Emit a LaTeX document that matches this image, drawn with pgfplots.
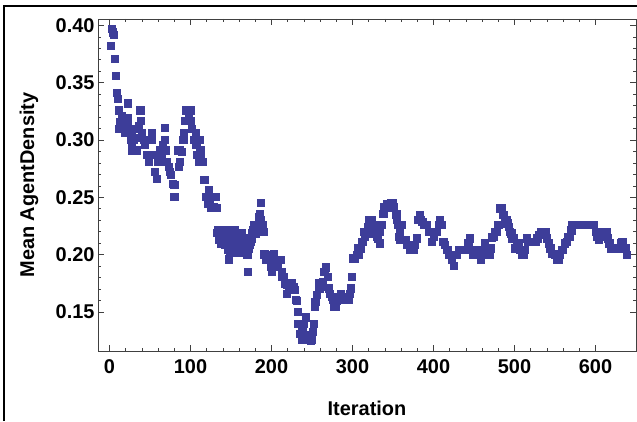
\documentclass[border=0pt]{standalone}
\usepackage{pgfplots}
\pgfplotsset{compat=1.18}
\usepackage{fontspec}
\setmainfont{Liberation Sans}
\definecolor{pts}{rgb}{0.24,0.24,0.6}
\begin{document}
\begin{tikzpicture}[x=1bp,y=1bp]
\useasboundingbox (0,0) rectangle (637,421);
\draw[line width=2bp] (4,0) -- (4,415) -- (637,415);
\begin{axis}[
  at={(98bp,70bp)}, anchor=south west,
  scale only axis, width=538bp, height=332bp,
  xmin=-14.2, xmax=650, ymin=0.1159, ymax=0.4056,
  xtick={0,100,...,600}, minor x tick num=4,
  ytick={0.15,0.20,0.25,0.30,0.35,0.40}, minor y tick num=4,
  tick align=inside,
  major tick length=6bp, minor tick length=3bp,
  axis line style={black!75, line width=0.6bp},
  every tick/.style={black!75, line width=0.6bp},
  yticklabel style={/pgf/number format/.cd, fixed, fixed zerofill, precision=2},
  /pgf/number format/assume math mode=true,
  tick label style={font=\fontsize{20}{24}\selectfont\bfseries},
  xticklabel style={yshift=-5bp},
  xlabel={Iteration}, ylabel={Mean AgentDensity},
  every axis x label/.style={at={(axis description cs:0.5,-0.1717)}, anchor=center, font=\fontsize{20}{24}\selectfont\bfseries},
  every axis y label/.style={at={(axis description cs:-0.128,0.5)}, rotate=90, anchor=center, font=\fontsize{20}{24}\selectfont\bfseries},
]
\addplot[only marks, mark=square*, mark size=3.6bp, mark options={draw=pts, fill=pts, line width=0.5bp}] coordinates {
(2,0.382)(3,0.397)(4,0.394)(5,0.392)(6,0.371)(8,0.356)(9,0.341)(10,0.336)(11,0.326)(12,0.310)(13,0.316)(15,0.321)(17,0.316)(19,0.306)(20,0.310)(22,0.319)(23,0.332)(23,0.316)(25,0.310)(26,0.300)(27,0.306)(27,0.296)(28,0.291)(30,0.300)(31,0.310)(32,0.302)(34,0.291)(36,0.312)(38,0.326)(39,0.317)(40,0.306)(42,0.300)(44,0.296)(46,0.287)(48,0.281)(50,0.287)
(52,0.306)(52,0.300)(54,0.287)(56,0.272)(58,0.266)(60,0.281)(62,0.291)(63,0.281)(64,0.287)(66,0.296)(68,0.311)(68,0.300)(69,0.291)(71,0.281)(73,0.277)(74,0.272)(76,0.270)(78,0.262)(80,0.261)(80,0.2505)(84,0.291)(85,0.277)(87,0.281)(87,0.291)(89,0.290)
(91,0.300)(92,0.306)(93,0.317)(94,0.326)(96,0.326)(98,0.321)(100,0.326)(100,0.317)(102,0.310)(104,0.300)(106,0.306)(107,0.296)(108,0.287)(110,0.281)(111,0.300)(112,0.291)(113,0.287)(115,0.281)(117,0.265)(118,0.265)(119,0.2505)(120,0.2505)(121,0.2447)(123,0.2564)(124,0.2453)(125,0.2409)(126,0.2505)(128,0.2505)(129,0.2418)(131,0.2505)(132,0.2409)
(133,0.219)(134,0.222)(135,0.213)(136,0.2186)(137,0.2215)(138,0.210)(139,0.2215)(140,0.2186)(141,0.213)(142,0.2215)(143,0.2084)(144,0.2186)(145,0.213)(146,0.204)(147,0.196)(148,0.208)(149,0.2013)(150,0.213)(151,0.2186)(152,0.2215)(153,0.210)(154,0.2186)(155,0.2215)(156,0.213)(157,0.2055)(158,0.2013)(159,0.210)(160,0.2055)(161,0.213)(162,0.2013)(163,0.2186)(164,0.2142)(165,0.2055)(166,0.2013)(167,0.2084)(168,0.2013)(169,0.1997)(170,0.1997)(171,0.185)(172,0.2055)(173,0.2084)(174,0.2113)(175,0.2142)(176,0.2186)(177,0.2215)(178,0.2258)
(180,0.2186)(182,0.2250)(184,0.2330)(185,0.2352)(187,0.2456)(187,0.2300)(189,0.2258)(190,0.2200)(191,0.2003)(193,0.1953)(195,0.1953)(197,0.1997)(199,0.1894)(200,0.1850)(201,0.1953)(203,0.2003)(205,0.1953)(207,0.1894)(209,0.1953)(211,0.1953)(213,0.1850)(213,0.1807)(215,0.1807)(217,0.1750)(219,0.1735)(219,0.1662)(221,0.1720)(223,0.1735)(225,0.1750)(227,0.1720)(229,0.1691)(230,0.1604)(231,0.1598)(232,0.1500)(233,0.1400)(235,0.1313)
(237,0.138)(238,0.1255)(239,0.133)(240,0.140)(242,0.1453)(243,0.128)(244,0.1255)(246,0.130)(247,0.1255)(248,0.125)(250,0.1255)(251,0.133)(252,0.140)(253,0.1545)(254,0.159)(256,0.165)(258,0.175)(259,0.170)(261,0.172)(263,0.176)(265,0.185)(267,0.189)(269,0.1807)(271,0.1706)(272,0.1662)(274,0.163)(276,0.1604)(277,0.1545)(279,0.1545)(281,0.160)(283,0.163)(285,0.1662)(287,0.163)(289,0.1604)(291,0.1633)(293,0.1604)(295,0.1604)(297,0.1662)(298,0.1706)(299,0.1807)
(301,0.1968)(303,0.1968)(305,0.1997)(306,0.2055)(308,0.1997)(310,0.2055)(312,0.2113)(314,0.220)(315,0.2156)(317,0.2186)(319,0.2244)(320,0.230)(322,0.2258)(324,0.230)(326,0.2258)(328,0.2186)(330,0.2156)(331,0.2142)(333,0.220)(334,0.2099)(336,0.2258)(338,0.236)(339,0.2413)(341,0.2413)(343,0.2441)(345,0.2441)(347,0.2456)(349,0.2456)(351,0.2413)(353,0.2346)(354,0.236)(355,0.2302)(356,0.2258)(357,0.2156)(358,0.2127)(358,0.220)(360,0.2258)(361,0.2258)(363,0.2127)(365,0.2127)(367,0.2084)(369,0.2084)(371,0.204)(373,0.2084)(375,0.204)(377,0.2084)(379,0.2142)(381,0.2302)(383,0.2346)(384,0.2302)(386,0.2287)(388,0.2258)(390,0.2258)(392,0.2258)(394,0.220)(396,0.220)(398,0.2113)(400,0.2156)
(402,0.220)(404,0.220)(406,0.2258)(408,0.2302)(410,0.2258)(412,0.2113)(414,0.2084)(416,0.204)(417,0.204)(419,0.1997)(421,0.1997)(423,0.1953)(425,0.190)(427,0.1997)(429,0.1997)(431,0.204)(433,0.204)(435,0.204)(437,0.204)(439,0.204)(441,0.204)(443,0.2099)(445,0.2142)(446,0.204)(448,0.1997)(450,0.1997)(452,0.204)(454,0.1997)(456,0.1997)(458,0.1953)(460,0.1997)(462,0.204)(463,0.2099)(465,0.204)(467,0.1997)(469,0.1997)(471,0.2055)(472,0.2151)(474,0.2156)(476,0.220)(478,0.220)(480,0.2258)(482,0.2404)(484,0.2404)(486,0.2346)(488,0.2302)(490,0.2302)(491,0.2273)(493,0.2244)(494,0.220)(496,0.2186)(497,0.2142)(499,0.2142)
(501,0.2055)(503,0.2099)(505,0.2099)(507,0.204)(509,0.1997)(511,0.1997)(513,0.204)(515,0.2142)(517,0.2113)(520,0.2113)(522,0.2113)(524,0.2113)(526,0.2113)(528,0.2142)(530,0.217)(532,0.220)(534,0.220)(536,0.220)(538,0.220)(540,0.2142)(542,0.2099)(544,0.2055)(546,0.2011)(548,0.2011)(550,0.1997)(552,0.1953)(554,0.1953)(556,0.1997)(558,0.204)(560,0.204)(562,0.2099)(564,0.2113)(566,0.2156)(568,0.2156)(570,0.2213)(571,0.2258)(573,0.2258)(575,0.2258)(577,0.2258)(579,0.2258)(581,0.2258)(584,0.2258)(586,0.2258)(588,0.2258)(590,0.2258)(592,0.2258)(594,0.2258)(596,0.2258)(598,0.2258)(600,0.220)
(602,0.2156)(604,0.2127)(606,0.2156)(608,0.220)(610,0.220)(612,0.220)(614,0.220)(615,0.2142)(617,0.2099)(619,0.2055)(621,0.2055)(623,0.2055)(625,0.2055)(627,0.2055)(629,0.2055)(631,0.2099)(633,0.2113)(635,0.2055)(637,0.2055)(639,0.1997)
};
\end{axis}
\end{tikzpicture}
\end{document}
